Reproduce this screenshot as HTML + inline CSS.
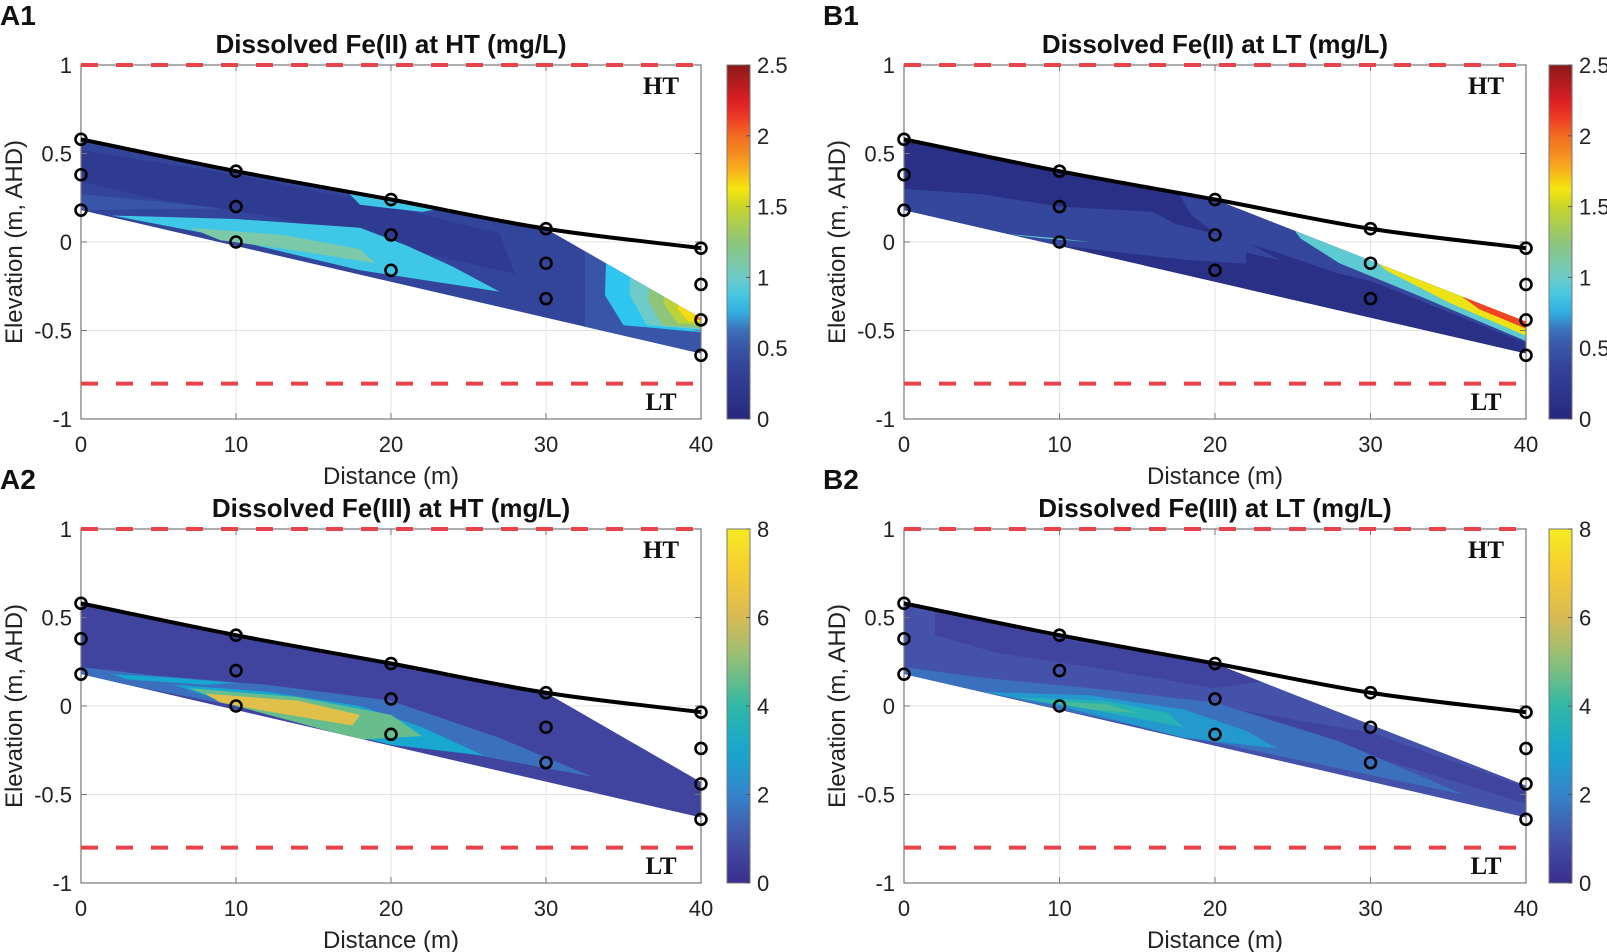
<!DOCTYPE html>
<html><head><meta charset="utf-8"><style>
html,body{margin:0;padding:0;background:#fff;}
svg{display:block;font-family:"Liberation Sans",Arial,sans-serif;}
</style></head><body>
<svg id="fig" width="1607" height="952" viewBox="0 0 1607 952" xmlns="http://www.w3.org/2000/svg"></svg>
<script>
// ---- data ----
const xTicks = [0, 10, 20, 30, 40];
const yTicks = [-1, -0.5, 0, 0.5, 1];
const yTickLabels = ["-1", "-0.5", "0", "0.5", "1"];
const surfaceDist = [0, 10, 20, 30, 40];
const surfaceElev = [0.58, 0.4, 0.24, 0.075, -0.035];
const sampleDist = [0, 0, 0, 10, 10, 10, 20, 20, 20, 30, 30, 30, 40, 40, 40, 40];
const sampleElev = [0.58, 0.38, 0.18, 0.4, 0.2, 0.0, 0.24, 0.04, -0.16, 0.075, -0.12, -0.32, -0.035, -0.24, -0.44, -0.64];
const highTide = 1.0;
const lowTide = -0.8;
const fe2Ticks = [0, 0.5, 1, 1.5, 2, 2.5];
const fe3Ticks = [0, 2, 4, 6, 8];
// domain outlines [distance, elevation]
const domainHT = [[0,0.58],[10,0.4],[20,0.24],[30,0.075],[40,-0.43],[40,-0.63],[0,0.18]];
const domainLT = [[0,0.58],[10,0.4],[20,0.24],[40,-0.45],[40,-0.63],[0,0.18]];
// contour regions: value + polygon
const regionsA1 = [
 {v:0.38, p:[[0,0.6],[45,0.6],[45,-0.7],[0,-0.7]]},
 {v:0.25, p:[[0,0.52],[10,0.38],[20,0.2],[27,0.05],[28,-0.18],[22,-0.06],[12,0.15],[5,0.24],[0,0.34]]},
 {v:0.5, p:[[0,0.27],[6,0.22],[9,0.19],[0,0.18]]},
 {v:0.85, p:[[2,0.15],[10,0.13],[18,0.08],[21,-0.02],[24,-0.14],[27,-0.28],[18,-0.16],[8,0.05]]},
 {v:1.1, p:[[7,0.08],[13,0.04],[18,-0.04],[19,-0.12],[14,-0.05],[9,0.01]]},
 {v:0.85, p:[[17,0.3],[20,0.25],[24,0.2],[22,0.17],[18,0.21]]},
 {v:0.5, p:[[32.5,0.2],[45,0.2],[45,-0.7],[32.5,-0.7]]},
 {v:0.8, p:[[34,0.2],[45,0.2],[45,-0.55],[35,-0.47],[33.8,-0.3]]},
 {v:1.0, p:[[35.5,0.2],[45,0.2],[45,-0.53],[36.5,-0.47],[35.4,-0.3]]},
 {v:1.25, p:[[36.8,0.2],[45,0.2],[45,-0.52],[37.5,-0.47],[36.6,-0.33]]},
 {v:1.45, p:[[37.8,0.2],[45,0.2],[45,-0.5],[38.5,-0.46],[37.6,-0.35]]},
 {v:1.65, p:[[38.6,0.2],[45,0.2],[45,-0.48],[39.2,-0.45],[38.5,-0.38]]},
 {v:1.9, p:[[39.2,0.2],[45,0.2],[45,-0.46],[39.6,-0.44]]}
];
const regionsB1 = [
 {v:0.1, p:[[0,0.6],[45,0.6],[45,-0.7],[0,-0.7]]},
 {v:0.4, p:[[0,0.3],[5,0.27],[10,0.2],[16,0.17],[17.5,0.1],[22,0.0],[25,-0.14],[18,-0.1],[10,-0.02],[0,0.16]]},
 {v:0.4, p:[[17.5,0.3],[45,0.3],[45,-0.58],[40,-0.58],[30,-0.24],[24,-0.06],[20,0.05],[18.5,0.15]]},
 {v:0.1, p:[[22,-0.06],[30,-0.22],[40,-0.57],[40,-0.7],[22,-0.7]]},
 {v:0.95, p:[[24,0.2],[45,0.2],[45,-0.56],[40,-0.56],[33,-0.3],[28,-0.12],[25.5,0.02]]},
 {v:0.95, p:[[6,0.05],[10,0.02],[12,0.0],[9,0.02]]},
 {v:1.6, p:[[29,0.0],[45,0.0],[45,-0.53],[40,-0.53],[35,-0.34],[31,-0.16]]},
 {v:2.1, p:[[32.5,-0.1],[45,-0.1],[45,-0.49],[40,-0.49],[37,-0.38],[34.5,-0.22]]}
];
const regionsA2 = [
 {v:0.6, p:[[0,0.6],[45,0.6],[45,-0.7],[0,-0.7]]},
 {v:1.6, p:[[0,0.22],[5,0.17],[12,0.12],[20,0.03],[27,-0.18],[33,-0.4],[22,-0.22],[10,0.0],[0,0.17]]},
 {v:3.0, p:[[2,0.18],[6,0.16],[10,0.13],[8,0.12],[3,0.15]]},
 {v:3.0, p:[[6,0.12],[12,0.08],[18,0.0],[22,-0.12],[26,-0.28],[20,-0.22],[10,0.0]]},
 {v:4.6, p:[[7,0.1],[14,0.05],[20,-0.05],[22,-0.17],[18,-0.19],[10,0.0]]},
 {v:6.3, p:[[8,0.07],[14,0.03],[18,-0.05],[17.5,-0.11],[12,-0.03],[9,0.02]]}
];
const regionsB2 = [
 {v:1.0, p:[[0,0.6],[45,0.6],[45,-0.7],[0,-0.7]]},
 {v:0.6, p:[[2,0.55],[10,0.38],[20,0.24],[24,0.15],[20,0.1],[12,0.22],[6,0.3],[2,0.4]]},
 {v:0.6, p:[[20,0.0],[30,-0.15],[40,-0.46],[40,-0.55],[30,-0.28],[22,-0.1]]},
 {v:1.6, p:[[0,0.22],[5,0.16],[12,0.1],[20,0.02],[28,-0.2],[36,-0.5],[24,-0.28],[10,-0.02],[0,0.18]]},
 {v:2.6, p:[[5,0.08],[12,0.06],[18,-0.02],[22,-0.14],[24,-0.24],[18,-0.18],[10,0.0]]},
 {v:3.6, p:[[7,0.05],[13,0.03],[17,-0.04],[18,-0.12],[12,-0.02]]},
 {v:4.3, p:[[9,0.03],[13,0.01],[15,-0.04],[12,-0.02]]}
];

// ---- colormaps ----
const jetStops = [[0,'#26287e'],[0.16,'#34479c'],[0.24,'#3e63b2'],[0.32,'#2ec5f0'],[0.4,'#6ecbc8'],[0.5,'#8ec57a'],[0.6,'#c8d42a'],[0.65,'#f6e60f'],[0.72,'#f7a021'],[0.8,'#f26b22'],[0.88,'#ec1f26'],[1,'#8b1a1a']];
const parStops = [[0,'#3a2f8e'],[0.125,'#4452aa'],[0.25,'#3584cc'],[0.375,'#17a7cf'],[0.5,'#2fb8a6'],[0.625,'#8dc07a'],[0.75,'#d8ba55'],[0.875,'#f6cb33'],[1,'#f4ea22']];
function hex(c){return [1,3,5].map(i=>parseInt(c.substr(i,2),16));}
function cmap(stops,t){t=Math.max(0,Math.min(1,t));for(let i=1;i<stops.length;i++){if(t<=stops[i][0]){const a=stops[i-1],b=stops[i];const f=(t-a[0])/(b[0]-a[0]);const ca=hex(a[1]),cb=hex(b[1]);return 'rgb('+ca.map((v,k)=>Math.round(v+(cb[k]-v)*f)).join(',')+')';}}return stops[stops.length-1][1];}

const NS='http://www.w3.org/2000/svg';
const svg=document.getElementById('fig');
function mk(tag,attrs,parent){const e=document.createElementNS(NS,tag);for(const k in attrs)e.setAttribute(k,attrs[k]);(parent||svg).appendChild(e);return e;}

const panels=[
 {id:'a1',label:'A1',title:'Dissolved Fe(II) at HT (mg/L)',x0:81,x1:701,yt:65,yb:419,cb:727,dom:domainHT,reg:regionsA1,stops:jetStops,vmax:2.5,ticks:fe2Ticks},
 {id:'b1',label:'B1',title:'Dissolved Fe(II) at LT (mg/L)',x0:904,x1:1526,yt:65,yb:419,cb:1549,dom:domainLT,reg:regionsB1,stops:jetStops,vmax:2.5,ticks:fe2Ticks},
 {id:'a2',label:'A2',title:'Dissolved Fe(III) at HT (mg/L)',x0:81,x1:701,yt:529,yb:883,cb:727,dom:domainHT,reg:regionsA2,stops:parStops,vmax:8,ticks:fe3Ticks},
 {id:'b2',label:'B2',title:'Dissolved Fe(III) at LT (mg/L)',x0:904,x1:1526,yt:529,yb:883,cb:1549,dom:domainLT,reg:regionsB2,stops:parStops,vmax:8,ticks:fe3Ticks}
];

panels.forEach(P=>{
 const g=mk('g',{});
 
 
 const sx=d=>P.x0+(d/40)*(P.x1-P.x0);
 const sy=e=>P.yb-(e+1)/2*(P.yb-P.yt);
 const pts=a=>a.map(q=>sx(q[0]).toFixed(1)+','+sy(q[1]).toFixed(1)).join(' ');
 const lab=mk('text',{x:P.x0-81,y:P.yt-40,'font-size':28,'font-weight':'bold',fill:'#111'},g);
 lab.textContent=P.label;
 
 
 const tt=mk('text',{x:(P.x0+P.x1)/2,y:P.yt-12,'font-size':26,'font-weight':'bold','text-anchor':'middle',fill:'#111'},g);
 tt.textContent=P.title;
 
 
 [10,20,30].forEach(d=>{const l=mk('line',{x1:sx(d),x2:sx(d),y1:P.yt,y2:P.yb,stroke:'#e4e4e4','stroke-width':1},g);});
 [-0.5,0,0.5].forEach(e=>{const l=mk('line',{x1:P.x0,x2:P.x1,y1:sy(e),y2:sy(e),stroke:'#e4e4e4','stroke-width':1},g);});
 const cp=mk('clipPath',{id:'clip-'+P.id},g);
 mk('polygon',{points:pts(P.dom)},cp);
 const fg=mk('g',{'clip-path':'url(#clip-'+P.id+')'},g);
 
 
 P.reg.forEach(r=>{const pg=mk('polygon',{points:pts(r.p),fill:cmap(P.stops,r.v/P.vmax)},fg);});
 const bx=mk('rect',{x:P.x0,y:P.yt,width:P.x1-P.x0,height:P.yb-P.yt,fill:'none',stroke:'#777','stroke-width':1.2},g);
 
 xTicks.forEach(d=>{
  mk('line',{x1:sx(d),x2:sx(d),y1:P.yb,y2:P.yb-6,stroke:'#777'},g);
  mk('line',{x1:sx(d),x2:sx(d),y1:P.yt,y2:P.yt+6,stroke:'#777'},g);
  const t=mk('text',{x:sx(d),y:P.yb+33,'font-size':22,'text-anchor':'middle',fill:'#222'},g);
  t.textContent=String(d);
 });
 yTicks.forEach((e,i)=>{
  mk('line',{x1:P.x0,x2:P.x0+6,y1:sy(e),y2:sy(e),stroke:'#777'},g);
  mk('line',{x1:P.x1,x2:P.x1-6,y1:sy(e),y2:sy(e),stroke:'#777'},g);
  const t=mk('text',{x:P.x0-9,y:sy(e)+8,'font-size':22,'text-anchor':'end',fill:'#222'},g);
  t.textContent=yTickLabels[i];
 });
 const xl=mk('text',{x:(P.x0+P.x1)/2,y:P.yb+65,'font-size':24,'text-anchor':'middle',fill:'#222'},g);
 xl.textContent='Distance (m)';
 const yl=mk('text',{x:0,y:0,'font-size':24,'text-anchor':'middle',fill:'#222',transform:'translate('+(P.x0-59)+','+((P.yt+P.yb)/2)+') rotate(-90)'},g);
 yl.textContent='Elevation (m, AHD)';
 const ht=mk('line',{x1:sx(0),x2:sx(40),y1:sy(highTide),y2:sy(highTide),stroke:'#e8424a','stroke-width':4,'stroke-dasharray':'17 18'},g);
 
 const lt=mk('line',{x1:sx(0),x2:sx(39.5),y1:sy(lowTide),y2:sy(lowTide),stroke:'#e8424a','stroke-width':4,'stroke-dasharray':'17 18'},g);
 
 const htt=mk('text',{x:P.x1-40,y:sy(highTide)+29,'font-size':25,'font-weight':'bold','font-family':'"Liberation Serif",serif','text-anchor':'middle',fill:'#111'},g);
 htt.textContent='HT';
 const ltt=mk('text',{x:P.x1-40,y:sy(-1)-9,'font-size':25,'font-weight':'bold','font-family':'"Liberation Serif",serif','text-anchor':'middle',fill:'#111'},g);
 ltt.textContent='LT';
 let d='M'+sx(surfaceDist[0])+','+sy(surfaceElev[0]);
 for(let i=1;i<surfaceDist.length;i++){
  const xa=sx(surfaceDist[i-1]),ya=sy(surfaceElev[i-1]),xb=sx(surfaceDist[i]),yb=sy(surfaceElev[i]);
  const yp=i>1?sy(surfaceElev[i-2]):ya-(yb-ya), yn=i<surfaceDist.length-1?sy(surfaceElev[i+1]):yb+(yb-ya);
  const s1=(yb-yp)/2, s2=(yn-ya)/2; const dx=(xb-xa)/3;
  d+=' C'+(xa+dx)+','+(ya+s1/3)+' '+(xb-dx)+','+(yb-s2/3)+' '+xb+','+yb;
 }
 const sl=mk('path',{d:d,fill:'none',stroke:'#000','stroke-width':4},g);
 
 sampleDist.forEach((dd,i)=>{const c=mk('circle',{cx:sx(dd),cy:sy(sampleElev[i]),r:5.5,fill:'none',stroke:'#000','stroke-width':2.6},g);});
 const gid='cbg-'+P.id;
 const lg=mk('linearGradient',{id:gid,x1:0,y1:1,x2:0,y2:0},g);
 for(let k=0;k<=20;k++){mk('stop',{offset:(k/20),'stop-color':cmap(P.stops,k/20)},lg);}
 const cb=mk('rect',{x:P.cb,y:P.yt,width:23,height:P.yb-P.yt,fill:'url(#'+gid+')',stroke:'#777','stroke-width':1},g);
 
 P.ticks.forEach(v=>{const y=P.yb-(v/P.vmax)*(P.yb-P.yt);
  mk('line',{x1:P.cb+23,x2:P.cb+19,y1:y,y2:y,stroke:'#555'},g);
  const t=mk('text',{x:P.cb+30,y:y+8,'font-size':22,fill:'#222'},g);
  t.textContent=String(v);});
});
</script>
</body></html>
